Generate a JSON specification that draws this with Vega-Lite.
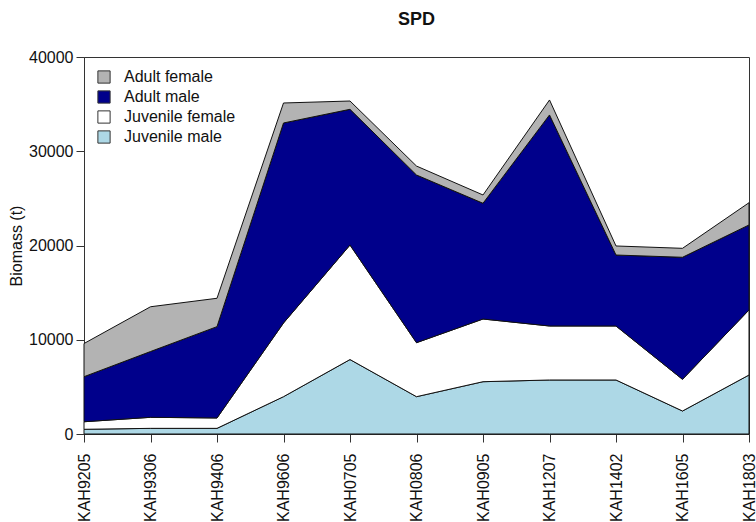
{
  "$schema": "https://vega.github.io/schema/vega-lite/v6.json",
  "autosize": {"type": "none"},
  "padding": {"left": 84, "top": 57, "right": 7, "bottom": 88},
  "width": 665,
  "height": 377,
  "background": "white",
  "title": {"text": "SPD", "fontSize": 18, "fontWeight": "bold", "font": "Liberation Sans", "color": "#111111", "anchor": "middle", "offset": 20},
  "config": {
    "view": {"stroke": "#333333", "strokeWidth": 1},
    "font": "Liberation Sans"
  },
  "data": {
    "values": [
      {"survey": "KAH9205", "series": "Juvenile male", "biomass": 500},
      {"survey": "KAH9306", "series": "Juvenile male", "biomass": 600},
      {"survey": "KAH9406", "series": "Juvenile male", "biomass": 600},
      {"survey": "KAH9606", "series": "Juvenile male", "biomass": 3960},
      {"survey": "KAH0705", "series": "Juvenile male", "biomass": 7900},
      {"survey": "KAH0806", "series": "Juvenile male", "biomass": 3960},
      {"survey": "KAH0905", "series": "Juvenile male", "biomass": 5550},
      {"survey": "KAH1207", "series": "Juvenile male", "biomass": 5730},
      {"survey": "KAH1402", "series": "Juvenile male", "biomass": 5730},
      {"survey": "KAH1605", "series": "Juvenile male", "biomass": 2440},
      {"survey": "KAH1803", "series": "Juvenile male", "biomass": 6260},
      {"survey": "KAH9205", "series": "Juvenile female", "biomass": 800},
      {"survey": "KAH9306", "series": "Juvenile female", "biomass": 1170},
      {"survey": "KAH9406", "series": "Juvenile female", "biomass": 1100},
      {"survey": "KAH9606", "series": "Juvenile female", "biomass": 7820},
      {"survey": "KAH0705", "series": "Juvenile female", "biomass": 12150},
      {"survey": "KAH0806", "series": "Juvenile female", "biomass": 5730},
      {"survey": "KAH0905", "series": "Juvenile female", "biomass": 6650},
      {"survey": "KAH1207", "series": "Juvenile female", "biomass": 5730},
      {"survey": "KAH1402", "series": "Juvenile female", "biomass": 5730},
      {"survey": "KAH1605", "series": "Juvenile female", "biomass": 3360},
      {"survey": "KAH1803", "series": "Juvenile female", "biomass": 6900},
      {"survey": "KAH9205", "series": "Adult male", "biomass": 4780},
      {"survey": "KAH9306", "series": "Adult male", "biomass": 6980},
      {"survey": "KAH9406", "series": "Adult male", "biomass": 9690},
      {"survey": "KAH9606", "series": "Adult male", "biomass": 21220},
      {"survey": "KAH0705", "series": "Adult male", "biomass": 14400},
      {"survey": "KAH0806", "series": "Adult male", "biomass": 17790},
      {"survey": "KAH0905", "series": "Adult male", "biomass": 12280},
      {"survey": "KAH1207", "series": "Adult male", "biomass": 22390},
      {"survey": "KAH1402", "series": "Adult male", "biomass": 7530},
      {"survey": "KAH1605", "series": "Adult male", "biomass": 12950},
      {"survey": "KAH1803", "series": "Adult male", "biomass": 9020},
      {"survey": "KAH9205", "series": "Adult female", "biomass": 3520},
      {"survey": "KAH9306", "series": "Adult female", "biomass": 4750},
      {"survey": "KAH9406", "series": "Adult female", "biomass": 3010},
      {"survey": "KAH9606", "series": "Adult female", "biomass": 2120},
      {"survey": "KAH0705", "series": "Adult female", "biomass": 880},
      {"survey": "KAH0806", "series": "Adult female", "biomass": 950},
      {"survey": "KAH0905", "series": "Adult female", "biomass": 880},
      {"survey": "KAH1207", "series": "Adult female", "biomass": 1590},
      {"survey": "KAH1402", "series": "Adult female", "biomass": 960},
      {"survey": "KAH1605", "series": "Adult female", "biomass": 950},
      {"survey": "KAH1803", "series": "Adult female", "biomass": 2360}
    ]
  },
  "mark": {"type": "area", "stroke": "#111111", "strokeWidth": 1, "opacity": 1, "fillOpacity": 1},
  "encoding": {
    "x": {
      "field": "survey",
      "type": "ordinal",
      "sort": null,
      "scale": {"type": "point", "padding": 0},
      "axis": {
        "title": null,
        "labelAngle": -90,
        "labelAlign": "right",
        "labelBaseline": "middle",
        "labelFontSize": 16,
        "labelColor": "#111111",
        "labelPadding": 11,
        "labelOverlap": false,
        "tickSize": 8,
        "tickColor": "#333333",
        "domainColor": "#333333",
        "grid": false
      }
    },
    "y": {
      "field": "biomass",
      "type": "quantitative",
      "stack": "zero",
      "scale": {"domain": [0, 40000], "nice": false},
      "axis": {
        "title": "Biomass (t)",
        "titleFontSize": 16,
        "titleFontWeight": "normal",
        "titleColor": "#111111",
        "titlePadding": 4,
        "values": [0, 10000, 20000, 30000, 40000],
        "format": "d",
        "labelFontSize": 16,
        "labelColor": "#111111",
        "labelPadding": 3,
        "tickSize": 8,
        "tickColor": "#333333",
        "domainColor": "#333333",
        "grid": false
      }
    },
    "color": {
      "field": "series",
      "type": "nominal",
      "scale": {
        "domain": ["Adult female", "Adult male", "Juvenile female", "Juvenile male"],
        "range": ["#b3b3b3", "#00008b", "#ffffff", "#add8e6"]
      },
      "legend": {
        "title": null,
        "orient": "top-left",
        "offset": 12,
        "symbolType": "square",
        "symbolSize": 150,
        "symbolStrokeColor": "#333333",
        "symbolStrokeWidth": 1,
        "labelFontSize": 16,
        "labelColor": "#111111",
        "labelOffset": 12,
        "rowPadding": 2,
        "symbolOpacity": 1
      }
    },
    "order": {"field": "series", "sort": "descending"}
  }
}
